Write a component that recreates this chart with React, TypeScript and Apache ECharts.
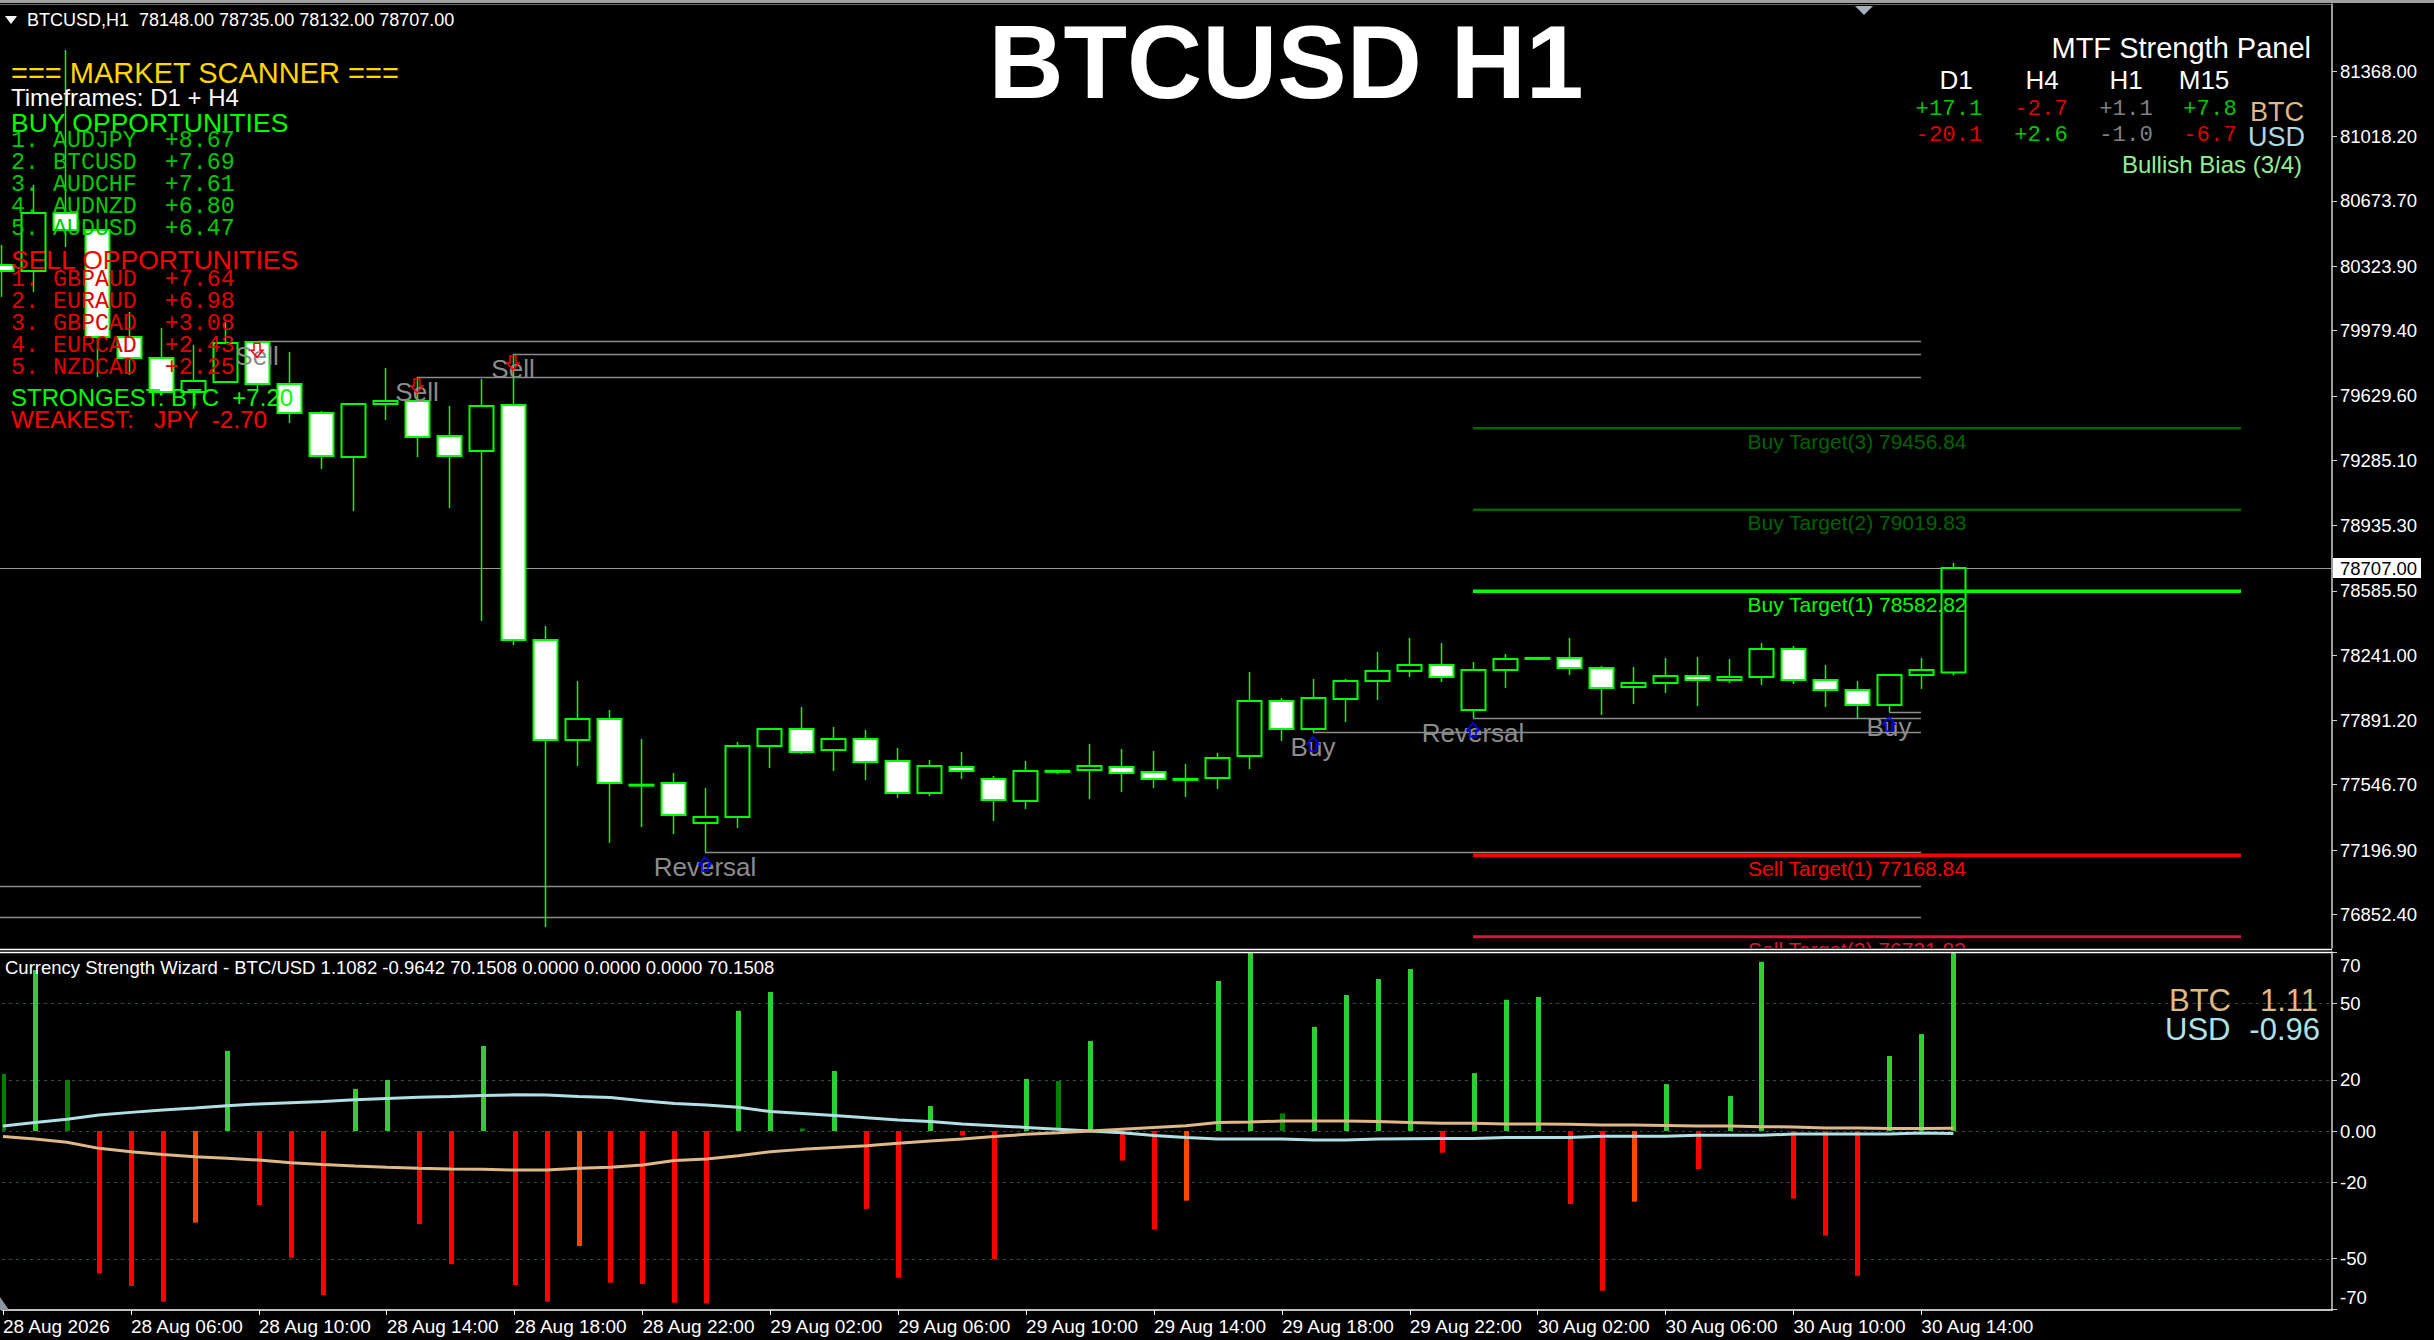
import React, { useEffect, useRef } from "react";
import * as echarts from "echarts";

// ---------------- DATA ----------------
const symbolName = "BTCUSD";
const timeframe = "H1";

// [open, high, low, close] per H1 bar, 28 Aug 02:00 .. 30 Aug 15:00
const candles: number[][] = [
  [80331, 80438, 80160, 80299], [80299, 80760, 80186, 80609], [80609, 81483, 80427, 80518],
  [80518, 80525, 79731, 79945], [79945, 80079, 79742, 79833], [79833, 79993, 79645, 79651],
  [79651, 79902, 79560, 79710], [79704, 80020, 79699, 79913], [79918, 79922, 79661, 79693],
  [79693, 79865, 79485, 79538], [79538, 79549, 79238, 79308], [79302, 79592, 79013, 79586],
  [79586, 79779, 79501, 79602], [79602, 79731, 79302, 79410], [79415, 79576, 79029, 79308],
  [79334, 79720, 78424, 79576], [79581, 79854, 78295, 78322], [78322, 78397, 76785, 77786],
  [77786, 78102, 77647, 77899], [77899, 77947, 77235, 77556], [77543, 77792, 77320, 77547],
  [77556, 77610, 77283, 77385], [77342, 77529, 77186, 77374], [77374, 77776, 77315, 77754],
  [77754, 77851, 77636, 77845], [77845, 77963, 77711, 77722], [77733, 77856, 77620, 77792],
  [77792, 77840, 77572, 77668], [77674, 77743, 77476, 77502], [77502, 77679, 77486, 77647],
  [77642, 77722, 77577, 77620], [77577, 77594, 77352, 77465], [77460, 77674, 77417, 77620],
  [77620, 77625, 77604, 77621], [77625, 77765, 77470, 77647], [77642, 77738, 77508, 77610],
  [77615, 77727, 77529, 77577], [77576, 77658, 77481, 77578], [77583, 77717, 77524, 77690],
  [77701, 78151, 77631, 77995], [77995, 78011, 77781, 77845], [77845, 78113, 77829, 78011],
  [78006, 78113, 77883, 78102], [78102, 78258, 78001, 78156], [78156, 78333, 78124, 78188],
  [78188, 78306, 78097, 78124], [77947, 78204, 77904, 78161], [78161, 78247, 78065, 78220],
  [78226, 78226, 78226, 78226], [78226, 78333, 78134, 78172], [78172, 78183, 77920, 78065],
  [78070, 78177, 77979, 78092], [78092, 78226, 78038, 78129], [78129, 78231, 77969, 78108],
  [78108, 78220, 78092, 78124], [78124, 78306, 78081, 78274], [78274, 78290, 78086, 78108],
  [78108, 78188, 77963, 78054], [78054, 78102, 77904, 77974], [77974, 78140, 77936, 78134],
  [78134, 78226, 78060, 78161], [78148, 78735, 78132, 78707],
];

const priceTicks = [81368.0, 81018.2, 80673.7, 80323.9, 79979.4, 79629.6, 79285.1, 78935.3,
  78585.5, 78241.0, 77891.2, 77546.7, 77196.9, 76852.4];
const currentPrice = 78707.0;

const timeTickIndex = [0, 4, 8, 12, 16, 20, 24, 28, 32, 36, 40, 44, 48, 52, 56, 60];
const timeTickLabels = ["28 Aug 2026", "28 Aug 06:00", "28 Aug 10:00", "28 Aug 14:00", "28 Aug 18:00",
  "28 Aug 22:00", "29 Aug 02:00", "29 Aug 06:00", "29 Aug 10:00", "29 Aug 14:00", "29 Aug 18:00",
  "29 Aug 22:00", "30 Aug 02:00", "30 Aug 06:00", "30 Aug 10:00", "30 Aug 14:00"];

// Currency Strength Wizard histogram
const histValues = [22.4, 63.1, 20.0, -55.8, -60.7, -66.9, -35.9, 31.4, -29.0, -49.7, -64.3, 16.5,
  20.0, -36.5, -52.2, 33.3, -60.4, -66.9, -45.1, -59.5, -60.0, -67.3, -67.6, 47.1, 54.5, 1.0, 23.5,
  -30.5, -57.5, 9.8, -1.8, -50.3, 20.4, 19.6, 35.3, -11.6, -38.6, -27.3, 58.8, 70.15, 6.9, 40.8,
  53.3, 59.6, 63.5, -8.5, 22.7, 51.4, 52.5, -28.6, -62.6, -27.7, 18.4, -14.9, 13.7, 66.3, -26.5,
  -41.0, -56.7, 29.4, 38.0, 70.15];
// G strong up, D weak up, R strong down, O weak down
const histClass = ["D", "G", "D", "R", "R", "R", "O", "G", "R", "R", "R", "G", "G", "R", "R", "G",
  "R", "R", "O", "R", "R", "R", "R", "G", "G", "D", "G", "R", "R", "G", "R", "R", "G", "D", "G", "R",
  "R", "O", "G", "G", "D", "G", "G", "G", "G", "R", "G", "G", "G", "R", "R", "O", "G", "R", "G", "G",
  "R", "R", "R", "G", "G", "G"];
const btcStrengthLine = [-2.2, -3.1, -4.4, -6.8, -8.1, -9.2, -10.1, -10.7, -11.4, -12.4, -13.1, -13.7,
  -14.2, -14.6, -14.9, -15.0, -15.3, -15.3, -14.6, -14.2, -13.3, -11.6, -11.0, -9.7, -8.1, -7.2, -6.5,
  -5.8, -4.8, -3.9, -3.1, -2.2, -1.3, -0.7, 0.0, 0.7, 1.4, 2.1, 3.3, 3.5, 3.9, 3.9, 3.9, 3.7, 3.3, 3.0,
  3.0, 2.7, 2.7, 2.6, 2.4, 2.4, 2.2, 2.0, 2.0, 1.7, 1.6, 1.2, 1.2, 1.0, 1.0, 1.11];
const usdStrengthLine = [2.0, 3.3, 4.6, 6.3, 7.3, 8.2, 9.0, 9.9, 10.6, 11.1, 11.6, 12.2, 12.7, 13.2,
  13.5, 13.9, 14.2, 14.1, 13.5, 13.1, 11.9, 10.8, 10.2, 9.3, 7.6, 6.9, 6.1, 5.2, 4.3, 3.7, 2.7, 2.1, 1.4,
  0.7, 0.0, -0.7, -1.8, -2.5, -3.1, -3.1, -3.1, -3.5, -3.5, -3.1, -3.0, -2.9, -2.9, -2.5, -2.5, -2.5,
  -2.1, -2.1, -2.1, -1.7, -1.7, -1.7, -1.2, -1.2, -1.2, -1.2, -0.8, -0.96];
const strengthTicks = [70, 50, 20, 0, -20, -50, -70];
const strengthLabelTicks = [50, 20, 0, -20, -50];
const strengthEdgeTicks = [70, -70];
const strengthLevels = [50, 20, 0, -20, -50];
const strengthRange = 70.1508;
const btcNow = 1.1082;
const usdNow = -0.9642;

// signals drawn on the price chart
const signalBars = [8, 13, 16, 22, 41, 46, 59];
const signalTypes = ["Sell", "Sell", "Sell", "Reversal", "Buy", "Reversal", "Buy"];
const signalLevels = [79922, 79731, 79854, 77186, 77829, 77904, 77936];
const olderLevels = [77004, 76838];
const levelEndBar = 60;

const targetNames = ["Buy Target(3)", "Buy Target(2)", "Buy Target(1)", "Sell Target(1)", "Sell Target(2)"];
const targetPrices = [79456.84, 79019.83, 78582.82, 77168.84, 76731.83];
const targetStartBar = 46;
const targetEndBar = 70;

// scanner / panel texts
const scannerTimeframes = "D1 + H4";
const buyPairs = ["AUDJPY", "BTCUSD", "AUDCHF", "AUDNZD", "AUDUSD"];
const buyScores = [8.67, 7.69, 7.61, 6.8, 6.47];
const sellPairs = ["GBPAUD", "EURAUD", "GBPCAD", "EURCAD", "NZDCAD"];
const sellScores = [7.64, 6.98, 3.08, 2.43, 2.25];
const strongestCcy = "BTC";
const strongestVal = 7.2;
const weakestCcy = "JPY";
const weakestVal = -2.7;
const mtfFrames = ["D1", "H4", "H1", "M15"];
const mtfBTC = [17.1, -2.7, 1.1, 7.8];
const mtfUSD = [-20.1, 2.6, -1.0, -6.7];
const biasText = "Bullish Bias (3/4)";

// ---------------- LAYOUT / STYLE ----------------
const W = 2434;
const H = 1340;
const PLOT_RIGHT = 2332;
const MAIN_TOP = 4;
const MAIN_BOTTOM = 948;
const SUB_TOP = 952;
const SUB_BOTTOM = 1310;
const BAR_PX = 32;
const X_MIN = -1 / BAR_PX;
const X_MAX = X_MIN + PLOT_RIGHT / BAR_PX;
const PRICE_MAX = 81729;
const PRICE_MIN = 76672;

const FONT = '"Liberation Sans", Arial, Helvetica, sans-serif';
const MONO = '"Liberation Mono", "Courier New", "DejaVu Sans Mono", monospace';
const LIME = "#00FF00";
const BULL_FILL = "#000000";
const BEAR_FILL = "#FFFFFF";
const histColors: Record<string, string> = { G: "#32CD32", D: "#008000", R: "#FF0000", O: "#FF4500" };
const targetColors = ["#006400", "#006400", "#00FF00", "#FF0000", "#DC143C"];
const targetWidths = [2.5, 2.5, 3.5, 3.5, 3];
const BTC_COLOR = "#DEB887";
const USD_COLOR = "#B0E0E6";

const signed = (v: number, d: number) => (v > 0 ? "+" : "") + v.toFixed(d);

function txt(x: number, y: number, s: string, size: number, fill: string, align = "left", weight = "normal", family = FONT) {
  return {
    type: "text", x, y, z: 100, silent: true,
    style: {
      text: s, fill, fontSize: size, fontFamily: family, fontWeight: weight,
      textAlign: align, textVerticalAlign: "middle", align, verticalAlign: "middle",
    },
  };
}

function arrow(x: number, y0: number, up: boolean, color: string) {
  const pts = up
    ? [[x, y0], [x + 6, y0 + 7], [x + 3, y0 + 7], [x + 3, y0 + 14], [x - 3, y0 + 14], [x - 3, y0 + 7], [x - 6, y0 + 7]]
    : [[x - 3, y0], [x + 3, y0], [x + 3, y0 + 7], [x + 6, y0 + 7], [x, y0 + 14], [x - 6, y0 + 7], [x - 3, y0 + 7]];
  return { type: "polygon", shape: { points: pts }, style: { fill: "none", stroke: color, lineWidth: 1.5 } };
}

function buildGraphics() {
  const els: any[] = [];
  // frame
  els.push({ type: "rect", z: 90, shape: { x: 0, y: 0, width: W, height: 3 }, style: { fill: "#A0A0A0" } });
  els.push({ type: "line", z: 90, shape: { x1: 0, y1: 4.5, x2: PLOT_RIGHT, y2: 4.5 }, style: { stroke: "#707070", lineWidth: 1 } });
  els.push({ type: "line", z: 90, shape: { x1: 0, y1: 949.5, x2: PLOT_RIGHT, y2: 949.5 }, style: { stroke: "#FFFFFF", lineWidth: 1.5 } });
  els.push({ type: "line", z: 90, shape: { x1: 0, y1: 952.5, x2: PLOT_RIGHT, y2: 952.5 }, style: { stroke: "#FFFFFF", lineWidth: 1.5 } });
  els.push({ type: "polygon", z: 90, shape: { points: [[1855, 6], [1873, 6], [1864, 15]] }, style: { fill: "#A9B0BC" } });
  els.push({ type: "polygon", z: 90, shape: { points: [[0, 1297], [0, 1310], [9, 1310]] }, style: { fill: "#8C96A0" } });
  els.push({ type: "polygon", z: 100, shape: { points: [[5, 16], [17, 16], [11, 24]] }, style: { fill: "#FFFFFF" } });

  const last = candles[candles.length - 1];
  els.push(txt(27, 20, `${symbolName},${timeframe}  ${last.map((v) => v.toFixed(2)).join(" ")}`, 18, "#FFFFFF"));
  els.push(txt(1286, 62, `${symbolName} ${timeframe}`, 104, "#FFFFFF", "center", "bold"));

  // scanner
  els.push(txt(11, 73, "=== MARKET SCANNER ===", 29, "#FFD700"));
  els.push(txt(11, 97, `Timeframes: ${scannerTimeframes}`, 24, "#FFFFFF"));
  els.push(txt(11, 123, "BUY OPPORTUNITIES", 26.5, "#00FF00"));
  buyPairs.forEach((p, i) => {
    els.push(txt(11, 141 + i * 22, `${i + 1}. ${p}  ${signed(buyScores[i], 2)}`, 23.3, "#00C800", "left", "normal", MONO));
  });
  els.push(txt(11, 260, "SELL OPPORTUNITIES", 26.5, "#FF0000"));
  sellPairs.forEach((p, i) => {
    els.push(txt(11, 280 + i * 22, `${i + 1}. ${p}  ${signed(sellScores[i], 2)}`, 23.3, "#E00000", "left", "normal", MONO));
  });
  els.push(txt(11, 397, `STRONGEST: ${strongestCcy}  ${signed(strongestVal, 2)}`, 24, "#00FF00"));
  els.push(txt(11, 419, `WEAKEST:   ${weakestCcy}  ${signed(weakestVal, 2)}`, 24.3, "#FF0000"));

  // MTF panel
  els.push(txt(2311, 48, "MTF Strength Panel", 29, "#FFFFFF", "right"));
  const frameX = [1956, 2042, 2126, 2204];
  const valX = [1949, 2041, 2126, 2210];
  mtfFrames.forEach((f, i) => els.push(txt(frameX[i], 80, f, 26, "#FFFFFF", "center")));
  const col = (v: number) => (v >= 2 ? "#00C800" : v <= -2 ? "#DD0000" : "#808080");
  mtfBTC.forEach((v, i) => els.push(txt(valX[i], 109, signed(v, 1), 22.3, col(v), "center", "normal", MONO)));
  mtfUSD.forEach((v, i) => els.push(txt(valX[i], 135, signed(v, 1), 22.3, col(v), "center", "normal", MONO)));
  els.push(txt(2250, 112, "BTC", 27, BTC_COLOR));
  els.push(txt(2248, 137, "USD", 27, "#ADD8E6"));
  els.push(txt(2302, 164, biasText, 24, "#90EE90", "right"));

  // indicator header + legend values
  const hdr = `Currency Strength Wizard - BTC/USD ${btcNow.toFixed(4)} ${usdNow.toFixed(4)} ${strengthRange.toFixed(4)} 0.0000 0.0000 0.0000 ${strengthRange.toFixed(4)}`;
  els.push(txt(5, 967, hdr, 18.5, "#FFFFFF"));
  els.push(txt(2169, 1000, "BTC", 31, BTC_COLOR));
  els.push(txt(2318, 1000, btcNow.toFixed(2), 31, BTC_COLOR, "right"));
  els.push(txt(2165, 1029, "USD", 31, USD_COLOR));
  els.push(txt(2320, 1029, usdNow.toFixed(2), 31, USD_COLOR, "right"));
  return els;
}

function buildOption(): any {
  const candleData = candles.map((c, i) => [i, c[0], c[1], c[2], c[3]]);
  return {
    animation: false,
    backgroundColor: "#000000",
    grid: [
      { left: 0, top: MAIN_TOP, width: PLOT_RIGHT, height: MAIN_BOTTOM - MAIN_TOP },
      { left: 0, top: SUB_TOP, width: PLOT_RIGHT, height: SUB_BOTTOM - SUB_TOP },
    ],
    xAxis: [
      { type: "value", gridIndex: 0, min: X_MIN, max: X_MAX, show: false },
      {
        type: "value", gridIndex: 1, min: X_MIN, max: X_MAX,
        axisLine: { show: true, onZero: false, lineStyle: { color: "#FFFFFF", width: 1.5 } },
        axisTick: { show: true, customValues: timeTickIndex, length: 5, lineStyle: { color: "#FFFFFF" } },
        axisLabel: {
          show: true, customValues: timeTickIndex, align: "left", margin: 7,
          color: "#FFFFFF", fontSize: 19, fontFamily: FONT,
          formatter: (v: number) => timeTickLabels[timeTickIndex.indexOf(v)] ?? "",
        },
        splitLine: { show: false },
      },
    ],
    yAxis: [
      {
        type: "value", gridIndex: 0, position: "right", min: PRICE_MIN, max: PRICE_MAX,
        axisLine: { show: true, onZero: false, lineStyle: { color: "#D0D0D0", width: 1.5 } },
        axisTick: { show: true, customValues: priceTicks, length: 5, lineStyle: { color: "#D0D0D0" } },
        axisLabel: {
          show: true, customValues: priceTicks, margin: 8, color: "#FFFFFF", fontSize: 18.5, fontFamily: FONT,
          formatter: (v: number) => v.toFixed(2),
        },
        splitLine: { show: false },
      },
      {
        type: "value", gridIndex: 1, position: "right", min: -strengthRange, max: strengthRange,
        axisLine: { show: true, onZero: false, lineStyle: { color: "#D0D0D0", width: 1.5 } },
        axisTick: { show: true, customValues: strengthTicks, length: 5, lineStyle: { color: "#D0D0D0" } },
        axisLabel: {
          show: true, customValues: strengthLabelTicks, margin: 8, color: "#FFFFFF", fontSize: 18.5, fontFamily: FONT,
          formatter: (v: number) => (v === 0 ? "0.00" : String(v)),
        },
        splitLine: { show: false },
      },
    ],
    graphic: { elements: buildGraphics() },
    series: [
      // support / resistance levels from signals
      {
        type: "custom", xAxisIndex: 0, yAxisIndex: 0, z: 2, clip: true,
        data: [...signalLevels.map((l, i) => [signalBars[i], l]), ...olderLevels.map((l) => [-1, l])],
        renderItem: (params: any, api: any) => {
          const a = api.coord([api.value(0), api.value(1)]);
          const b = api.coord([levelEndBar, api.value(1)]);
          const y = Math.round(a[1]) + 0.5;
          return { type: "line", shape: { x1: a[0], y1: y, x2: b[0], y2: y }, style: { stroke: "#8C8C8C", lineWidth: 1.5 } };
        },
      },
      // bid line
      {
        type: "custom", xAxisIndex: 0, yAxisIndex: 0, z: 2, clip: true,
        data: [[X_MIN, currentPrice]],
        renderItem: (params: any, api: any) => {
          const a = api.coord([X_MIN, currentPrice]);
          const b = api.coord([X_MAX, currentPrice]);
          const y = Math.round(a[1]) + 0.5;
          return { type: "line", shape: { x1: a[0], y1: y, x2: b[0], y2: y }, style: { stroke: "#9A9A9A", lineWidth: 1.2 } };
        },
      },
      // candles
      {
        type: "custom", xAxisIndex: 0, yAxisIndex: 0, z: 5,
        data: candleData,
        renderItem: (params: any, api: any) => {
          const i = params.dataIndex;
          const o = candles[i][0];
          const h = candles[i][1];
          const l = candles[i][2];
          const cl = candles[i][3];
          const bullish = cl >= o;
          const pO = api.coord([i, o]);
          const pC = api.coord([i, cl]);
          const pH = api.coord([i, h]);
          const pL = api.coord([i, l]);
          const x = Math.round(pO[0]);
          const bw = api.size([0.75, 0])[0];
          const top = Math.min(pO[1], pC[1]);
          const bot = Math.max(pO[1], pC[1]);
          return {
            type: "group",
            children: [
              { type: "line", shape: { x1: x + 0.5, y1: pH[1], x2: x + 0.5, y2: pL[1] }, style: { stroke: LIME, lineWidth: 1.5 } },
              {
                type: "rect",
                shape: { x: x - bw / 2 + 0.5, y: top, width: bw, height: Math.max(bot - top, 1) },
                style: { fill: bullish ? BULL_FILL : BEAR_FILL, stroke: LIME, lineWidth: 2 },
              },
            ],
          };
        },
      },
      // targets (drawn over the candles)
      {
        type: "custom", xAxisIndex: 0, yAxisIndex: 0, z: 6, clip: true,
        data: targetPrices.map((p, i) => [i, p]),
        renderItem: (params: any, api: any) => {
          const i = params.dataIndex;
          const p = targetPrices[i];
          const a = api.coord([targetStartBar, p]);
          const b = api.coord([targetEndBar, p]);
          const m = api.coord([(targetStartBar + targetEndBar) / 2, p]);
          return {
            type: "group",
            children: [
              { type: "line", shape: { x1: a[0], y1: a[1], x2: b[0], y2: b[1] }, style: { stroke: targetColors[i], lineWidth: targetWidths[i] } },
              {
                type: "text", x: m[0], y: m[1] + 13,
                style: {
                  text: `${targetNames[i]} ${p.toFixed(2)}`, fill: targetColors[i], fontSize: 21, fontFamily: FONT,
                  textAlign: "center", textVerticalAlign: "middle", align: "center", verticalAlign: "middle",
                },
              },
            ],
          };
        },
      },
      // signal labels + arrows
      {
        type: "custom", xAxisIndex: 0, yAxisIndex: 0, z: 8,
        data: signalLevels.map((l, i) => [signalBars[i], l]),
        renderItem: (params: any, api: any) => {
          const i = params.dataIndex;
          const p = api.coord([signalBars[i], signalLevels[i]]);
          const x = Math.round(p[0]);
          const sell = signalTypes[i] === "Sell";
          return {
            type: "group",
            children: [
              {
                type: "text", x, y: p[1] + 15,
                style: {
                  text: signalTypes[i], fill: "#8C8C8C", fontSize: 26, fontFamily: FONT,
                  textAlign: "center", textVerticalAlign: "middle", align: "center", verticalAlign: "middle",
                },
              },
              sell ? arrow(x, p[1] + 2, false, "#FF0000") : arrow(x, p[1] + 5, true, "#0000FF"),
            ],
          };
        },
      },
      // current price label on the price scale
      {
        type: "custom", xAxisIndex: 0, yAxisIndex: 0, z: 20, clip: false,
        data: [[X_MAX, currentPrice]],
        renderItem: (params: any, api: any) => {
          const a = api.coord([X_MAX, currentPrice]);
          return {
            type: "group",
            children: [
              { type: "rect", shape: { x: a[0] + 1, y: a[1] - 10, width: 88, height: 20 }, style: { fill: "#FFFFFF" } },
              {
                type: "text", x: a[0] + 8, y: a[1],
                style: {
                  text: currentPrice.toFixed(2), fill: "#000000", fontSize: 18.5, fontFamily: FONT,
                  textAlign: "left", textVerticalAlign: "middle", align: "left", verticalAlign: "middle",
                },
              },
            ],
          };
        },
      },
      // strength dotted levels
      {
        type: "custom", xAxisIndex: 1, yAxisIndex: 1, z: 1, clip: true,
        data: strengthLevels.map((v) => [0, v]),
        renderItem: (params: any, api: any) => {
          const v = strengthLevels[params.dataIndex];
          const a = api.coord([X_MIN, v]);
          const b = api.coord([X_MAX, v]);
          const y = Math.round(a[1]) + 0.5;
          return { type: "line", shape: { x1: a[0], y1: y, x2: b[0], y2: y }, style: { stroke: "#2F4F4F", lineWidth: 1.2, lineDash: [3, 4] } };
        },
      },
      // histogram
      {
        type: "custom", xAxisIndex: 1, yAxisIndex: 1, z: 3, clip: true,
        data: histValues.map((v, i) => [i, v]),
        renderItem: (params: any, api: any) => {
          const i = params.dataIndex;
          const v = histValues[i];
          const a = api.coord([i, 0]);
          const b = api.coord([i, v]);
          const x = Math.round(a[0]);
          return {
            type: "rect",
            shape: { x: x - 2, y: Math.min(a[1], b[1]), width: 5, height: Math.abs(b[1] - a[1]) },
            style: { fill: histColors[histClass[i]] },
          };
        },
      },
      {
        type: "line", xAxisIndex: 1, yAxisIndex: 1, z: 4, symbol: "none", silent: true,
        data: usdStrengthLine.map((v, i) => [i, v]),
        lineStyle: { color: USD_COLOR, width: 3 },
      },
      {
        type: "line", xAxisIndex: 1, yAxisIndex: 1, z: 4, symbol: "none", silent: true,
        data: btcStrengthLine.map((v, i) => [i, v]),
        lineStyle: { color: BTC_COLOR, width: 3 },
      },
      // 70 / -70 edge labels of the indicator scale
      {
        type: "custom", xAxisIndex: 1, yAxisIndex: 1, z: 20, clip: false,
        data: strengthEdgeTicks.map((v) => [X_MAX, v]),
        renderItem: (params: any, api: any) => {
          const v = strengthEdgeTicks[params.dataIndex];
          const a = api.coord([X_MAX, v]);
          return {
            type: "text", x: a[0] + 8, y: a[1] + (v > 0 ? 13 : -12),
            style: {
              text: String(v), fill: "#FFFFFF", fontSize: 18.5, fontFamily: FONT,
              textAlign: "left", textVerticalAlign: "middle", align: "left", verticalAlign: "middle",
            },
          };
        },
      },
    ],
  };
}

export default function App() {
  const ref = useRef<HTMLDivElement>(null);
  useEffect(() => {
    document.body.style.margin = "0";
    document.body.style.background = "#000";
    const chart = echarts.init(ref.current!, undefined, { renderer: "svg" });
    chart.setOption(buildOption());
    return () => chart.dispose();
  }, []);
  return <div ref={ref} style={{ position: "fixed", left: 0, top: 0, width: W, height: H, background: "#000" }} />;
}
